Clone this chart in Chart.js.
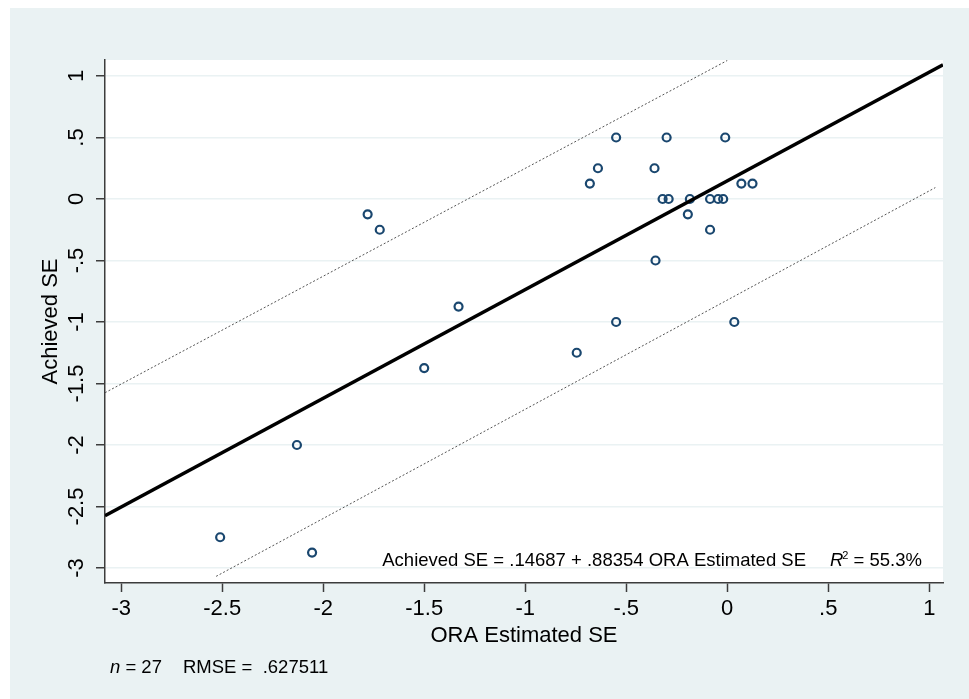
<!DOCTYPE html>
<html>
<head>
<meta charset="utf-8">
<title>Achieved SE vs ORA Estimated SE</title>
<script src="https://cdn.jsdelivr.net/npm/chart.js@4.4.1/dist/chart.umd.min.js"></script>
<style>
    html, body { margin: 0; padding: 0; background: #fff; }
    canvas { display: block; }
</style>
</head>
<body>
<canvas id="seChart" width="969" height="699"></canvas>
<script>
const oraEstimated = [-1.78, -1.72, -1.33, -1.50, -2.13, -2.51, -2.055,
    -0.55, -0.30, -0.01, -0.64, -0.36, -0.68, 0.07, 0.125,
    -0.32, -0.29, -0.185, -0.085, -0.045, -0.02,
    -0.195, -0.085, -0.355, -0.55, 0.035, -0.745];
const achieved = [-0.125, -0.25, -0.875, -1.375, -2.0, -2.75, -2.875,
    0.5, 0.5, 0.5, 0.25, 0.25, 0.125, 0.125, 0.125,
    0, 0, 0, 0, 0, 0,
    -0.125, -0.25, -0.5, -1.0, -1.0, -1.25];

// Regression summary
const intercept = 0.14687;
const slope = 0.88354;
const rSquared = '55.3%';
const nObs = 27;
const rmse = '.627511';

// Dotted band end points
const upperBandX = [-3.08, 0.0];
const upperBandY = [-1.575, 1.126];
const lowerBandX = [-2.53, 1.03];
const lowerBandY = [-3.068, 0.0925];

// Axes
const xRange = [-3.08, 1.068];
const yRange = [-3.122, 1.13];
const xTicks = [-3, -2.5, -2, -1.5, -1, -0.5, 0, 0.5, 1];
const xTickLabels = ['-3', '-2.5', '-2', '-1.5', '-1', '-.5', '0', '.5', '1'];
const yTicks = [-3, -2.5, -2, -1.5, -1, -0.5, 0, 0.5, 1];
const yTickLabels = ['-3', '-2.5', '-2', '-1.5', '-1', '-.5', '0', '.5', '1'];

const FONT = '"Liberation Sans", Arial, Helvetica, sans-serif';
const PANEL = '#eaf2f3';
const NAVY = '#1a476f';
const AXIS = '#3c3c3c';

document.addEventListener('DOMContentLoaded', function () {
    initChart();
});

// Stata style backgrounds: bluish panel, white plot region
const backgroundPlugin = {
    id: 'panelBackground',
    beforeDraw(chart) {
        const ctx = chart.ctx;
        const a = chart.chartArea;
        ctx.save();
        ctx.fillStyle = '#fff';
        ctx.fillRect(0, 0, chart.width, chart.height);
        ctx.fillStyle = PANEL;
        ctx.fillRect(10, 8, chart.width - 10, chart.height - 8);
        ctx.fillStyle = '#fff';
        ctx.fillRect(a.left, a.top, a.right - a.left, a.bottom - a.top);
        ctx.restore();
    }
};

// Regression caption inside the plot and the n / RMSE note below it
const captionPlugin = {
    id: 'captions',
    afterDraw(chart) {
        const ctx = chart.ctx;
        const a = chart.chartArea;
        const size = 18.5;
        const normal = size + 'px ' + FONT;
        const italic = 'italic ' + size + 'px ' + FONT;
        const small = '11px ' + FONT;
        ctx.save();
        ctx.fillStyle = '#000';
        ctx.textAlign = 'left';
        ctx.textBaseline = 'alphabetic';

        // right part: R² = 55.3%
        const baseY = a.bottom - 17;
        const rest = ' = ' + rSquared;
        ctx.font = italic;
        const wR = ctx.measureText('R').width;
        ctx.font = small;
        const w2 = ctx.measureText('2').width;
        ctx.font = normal;
        const wRest = ctx.measureText(rest).width;
        let x = a.right - 20 - (wR + w2 + wRest);
        const rStart = x;
        ctx.font = italic;
        ctx.fillText('R', x, baseY);
        x += wR - 1;
        ctx.font = small;
        ctx.fillText('2', x, baseY - 7);
        x += w2;
        ctx.font = normal;
        ctx.fillText(rest, x, baseY);

        const eq = 'Achieved SE = .' + String(intercept).split('.')[1] +
            ' + .' + String(slope).split('.')[1] + ' ORA Estimated SE';
        ctx.textAlign = 'right';
        ctx.fillText(eq, rStart - 24, baseY);

        // footer note
        ctx.textAlign = 'left';
        const footY = 673;
        let fx = 110;
        ctx.font = italic;
        ctx.fillText('n', fx, footY);
        fx += ctx.measureText('n').width;
        ctx.font = normal;
        ctx.fillText(' = ' + nObs, fx, footY);
        ctx.fillText('RMSE =  ' + rmse, 183, footY);
        ctx.restore();
    }
};

function initChart() {
    const ctx = document.getElementById('seChart').getContext('2d');

    const points = oraEstimated.map((x, i) => ({ x: x, y: achieved[i] }));
    const fitLine = xRange.map(x => ({ x: x, y: intercept + slope * x }));
    const upperBand = upperBandX.map((x, i) => ({ x: x, y: upperBandY[i] }));
    const lowerBand = lowerBandX.map((x, i) => ({ x: x, y: lowerBandY[i] }));

    new Chart(ctx, {
        type: 'scatter',
        data: {
            datasets: [{
                label: 'Achieved SE',
                data: points,
                borderColor: NAVY,
                backgroundColor: 'rgba(0,0,0,0)',
                pointRadius: 4,
                pointBorderWidth: 2.2,
                order: 1
            }, {
                label: 'Fit',
                data: fitLine,
                showLine: true,
                borderColor: '#000',
                borderWidth: 3.4,
                pointRadius: 0,
                order: 0
            }, {
                label: 'Upper',
                data: upperBand,
                showLine: true,
                borderColor: '#555',
                borderWidth: 1,
                borderDash: [2, 2],
                pointRadius: 0,
                order: 2
            }, {
                label: 'Lower',
                data: lowerBand,
                showLine: true,
                borderColor: '#555',
                borderWidth: 1,
                borderDash: [2, 2],
                pointRadius: 0,
                order: 2
            }]
        },
        options: {
            responsive: false,
            animation: false,
            devicePixelRatio: 1,
            layout: {
                padding: { top: 60, right: 26, left: 0, bottom: 0 }
            },
            font: { family: FONT },
            plugins: {
                legend: { display: false },
                tooltip: { enabled: false }
            },
            scales: {
                x: {
                    type: 'linear',
                    min: xRange[0],
                    max: xRange[1],
                    afterBuildTicks: function (scale) {
                        scale.ticks = xTicks.map(v => ({ value: v }));
                    },
                    afterFit: function (scale) {
                        scale.height = 116;
                    },
                    grid: {
                        drawOnChartArea: false,
                        drawTicks: true,
                        tickLength: 9,
                        tickColor: AXIS,
                        tickWidth: 1.5
                    },
                    border: { display: true, color: AXIS, width: 1.5 },
                    ticks: {
                        color: '#000',
                        padding: 4,
                        maxRotation: 0,
                        font: { family: FONT, size: 22 },
                        callback: function (value) {
                            return xTickLabels[xTicks.indexOf(value)];
                        }
                    },
                    title: {
                        display: true,
                        text: 'ORA Estimated SE',
                        color: '#000',
                        font: { family: FONT, size: 22 },
                        padding: { top: 0, bottom: 50 }
                    }
                },
                y: {
                    type: 'linear',
                    min: yRange[0],
                    max: yRange[1],
                    afterBuildTicks: function (scale) {
                        scale.ticks = yTicks.map(v => ({ value: v }));
                    },
                    afterFit: function (scale) {
                        scale.width = 105;
                    },
                    grid: {
                        color: PANEL,
                        lineWidth: 1.5,
                        drawTicks: true,
                        tickLength: 9,
                        tickColor: AXIS,
                        tickWidth: 1.5
                    },
                    border: { display: true, color: AXIS, width: 1.5 },
                    ticks: {
                        color: '#000',
                        padding: 0,
                        minRotation: 90,
                        maxRotation: 90,
                        crossAlign: 'center',
                        font: { family: FONT, size: 22 },
                        callback: function (value) {
                            return yTickLabels[yTicks.indexOf(value)];
                        }
                    },
                    title: {
                        display: true,
                        text: 'Achieved SE',
                        color: '#000',
                        font: { family: FONT, size: 22 },
                        padding: { top: 38, bottom: 0 }
                    }
                }
            }
        },
        plugins: [backgroundPlugin, captionPlugin]
    });
}
</script>
</body>
</html>
